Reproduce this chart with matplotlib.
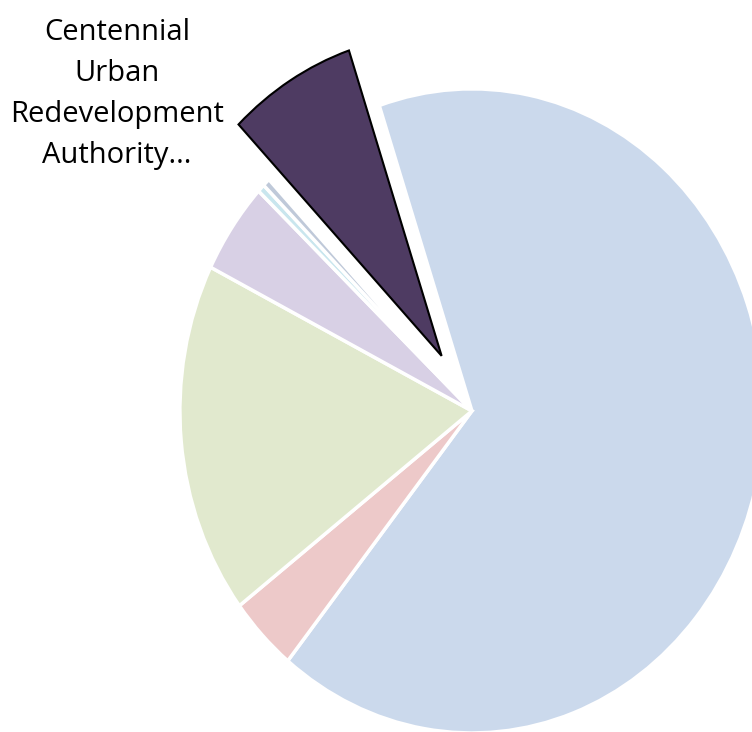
import matplotlib.pyplot as plt

# slice data, clockwise from the top-left edge of the big slice
names = ["A", "B", "C", "D", "E", "F", "Centennial Urban Redevelopment Authority"]
shares = [66.0, 3.8, 17.7, 4.6, 0.4, 0.4, 7.1]
colors = ["#cbd9ec", "#edc9c9", "#e1e9ce", "#d8d0e5", "#c9e6ee", "#bfc9d9", "#4e3b62"]
explode = [0, 0, 0, 0, 0, 0, 0.2]

fig = plt.figure(figsize=(7.52, 7.32), dpi=100)
ax = fig.add_axes([0, 0, 1, 1])

wedges, _ = ax.pie(shares, colors=colors, explode=explode, startangle=108.5,
                   counterclock=False, radius=1,
                   wedgeprops={'edgecolor': 'white', 'linewidth': 2.5})

# highlighted slice gets a dark outline
wedges[-1].set_edgecolor('black')
wedges[-1].set_linewidth(1.5)

# chart is drawn slightly taller than wide
ax.set_aspect('auto')
ax.set_xlim(-1.616, 0.959)
ax.set_ylim(-0.997, 1.276)
ax.axis('off')

fig.text(117/752, 1 - 94/732, "Centennial\nUrban\nRedevelopment\nAuthority...",
         ha='center', va='center', fontsize=21, family='Open Sans',
         linespacing=1.55, color='black')

fig.savefig('out.png', dpi=100)
